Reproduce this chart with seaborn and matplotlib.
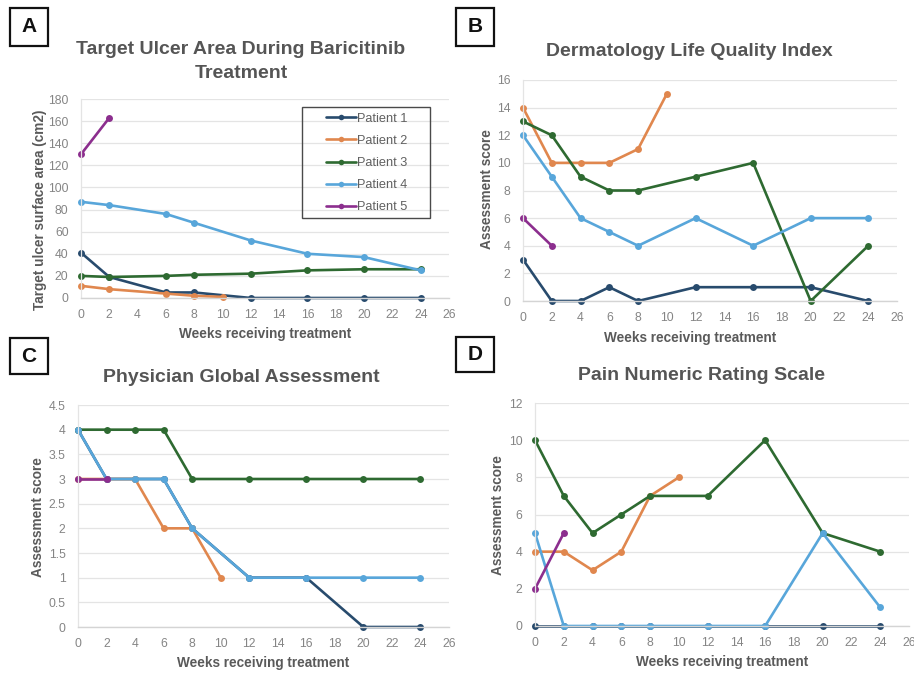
import matplotlib
matplotlib.use("Agg")
import matplotlib.pyplot as plt
from matplotlib.patches import Rectangle
import seaborn as sns
import pandas as pd

# ---- data -------------------------------------------------------------
patients = ["Patient 1", "Patient 2", "Patient 3", "Patient 4", "Patient 5"]
colors = ["#284B6D", "#E0874E", "#2E6A31", "#58A6DA", "#8C2E8E"]

week_ticks = list(range(0, 27, 2))

# Target ulcer surface area (cm2)
area_weeks = [[0, 2, 6, 8, 12, 16, 20, 24],
              [0, 2, 6, 8, 10],
              [0, 2, 6, 8, 12, 16, 20, 24],
              [0, 2, 6, 8, 12, 16, 20, 24],
              [0, 2]]
area_values = [[41, 19, 5, 5, 0, 0, 0, 0],
               [11, 8, 4, 2, 1],
               [20, 19, 20, 21, 22, 25, 26, 26],
               [87, 84, 76, 68, 52, 40, 37, 25],
               [130, 163]]

# Dermatology Life Quality Index
dlqi_weeks = [[0, 2, 4, 6, 8, 12, 16, 20, 24],
              [0, 2, 4, 6, 8, 10],
              [0, 2, 4, 6, 8, 12, 16, 20, 24],
              [0, 2, 4, 6, 8, 12, 16, 20, 24],
              [0, 2]]
dlqi_values = [[3, 0, 0, 1, 0, 1, 1, 1, 0],
               [14, 10, 10, 10, 11, 15],
               [13, 12, 9, 8, 8, 9, 10, 0, 4],
               [12, 9, 6, 5, 4, 6, 4, 6, 6],
               [6, 4]]

# Physician Global Assessment
pga_weeks = [[0, 2, 4, 6, 8, 12, 16, 20, 24],
             [0, 2, 4, 6, 8, 10],
             [0, 2, 4, 6, 8, 12, 16, 20, 24],
             [0, 2, 4, 6, 8, 12, 16, 20, 24],
             [0, 2]]
pga_values = [[4, 3, 3, 3, 2, 1, 1, 0, 0],
              [3, 3, 3, 2, 2, 1],
              [4, 4, 4, 4, 3, 3, 3, 3, 3],
              [4, 3, 3, 3, 2, 1, 1, 1, 1],
              [3, 3]]

# Pain Numeric Rating Scale
pain_weeks = [[0, 2, 4, 6, 8, 12, 16, 20, 24],
              [0, 2, 4, 6, 8, 10],
              [0, 2, 4, 6, 8, 12, 16, 20, 24],
              [0, 2, 4, 6, 8, 12, 16, 20, 24],
              [0, 2]]
pain_values = [[0, 0, 0, 0, 0, 0, 0, 0, 0],
               [4, 4, 3, 4, 7, 8],
               [10, 7, 5, 6, 7, 7, 10, 5, 4],
               [5, 0, 0, 0, 0, 0, 0, 5, 1],
               [2, 5]]

area_ticks = list(range(0, 181, 20))
dlqi_ticks = list(range(0, 17, 2))
pga_ticks = [0, 0.5, 1, 1.5, 2, 2.5, 3, 3.5, 4, 4.5]
pga_tick_labels = ["0", "0.5", "1", "1.5", "2", "2.5", "3", "3.5", "4", "4.5"]
pain_ticks = list(range(0, 13, 2))


def long_frame(weeks, values):
    rows = []
    for name, ws, vs in zip(patients, weeks, values):
        for w, v in zip(ws, vs):
            rows.append({"week": w, "value": v, "patient": name})
    return pd.DataFrame(rows)


# ---- figure -----------------------------------------------------------
sns.set_theme(style="white")
plt.rcParams["font.family"] = ["Liberation Sans", "DejaVu Sans"]

W, H = 914, 673
fig = plt.figure(figsize=(W / 100, H / 100), dpi=100)

TITLE_C = "#555555"
LABEL_C = "#5A5A5A"
TICK_C = "#858585"
GRID_C = "#E4E4E4"
TITLE_FS = 14
LABEL_FS = 9.8


def px_axes(x0, y_top, x1, y_bot):
    return fig.add_axes([x0 / W, 1 - y_bot / H, (x1 - x0) / W, (y_bot - y_top) / H])


def style_axes(ax, yticks, ylim, ylabels=None):
    ax.set_xlim(0, 26)
    ax.set_ylim(*ylim)
    ax.set_xticks(week_ticks)
    ax.set_xticklabels([str(t) for t in week_ticks])
    ax.set_yticks(yticks)
    if ylabels is not None:
        ax.set_yticklabels(ylabels)
    else:
        ax.set_yticklabels([str(t) for t in yticks])
    ax.tick_params(axis="both", length=0, labelsize=8.8, colors=TICK_C)
    ax.tick_params(axis="x", pad=8)
    ax.tick_params(axis="y", pad=9)
    ax.grid(axis="y", color=GRID_C, linewidth=0.9)
    ax.grid(axis="x", visible=False)
    for s in ["top", "right"]:
        ax.spines[s].set_visible(False)
    ax.spines["bottom"].set_color("#D4D4D4")
    ax.spines["bottom"].set_linewidth(1.0)
    ax.spines["left"].set_color("#E4E4E4")
    ax.spines["left"].set_linewidth(0.9)
    ax.set_xlabel("")
    ax.set_ylabel("")
    for line in ax.lines:
        line.set_clip_on(False)


def draw(ax, weeks, values, legend=False):
    df = long_frame(weeks, values)
    sns.lineplot(data=df, x="week", y="value", hue="patient",
                 hue_order=patients, palette=colors, marker="o",
                 markersize=5, markeredgewidth=0, linewidth=1.9,
                 estimator=None, sort=False, ax=ax, legend=legend)


def panel_letter(letter, x0, y0, x1, y1):
    fig.patches.append(Rectangle((x0 / W, 1 - y1 / H), (x1 - x0) / W, (y1 - y0) / H,
                                 transform=fig.transFigure, fill=False,
                                 edgecolor="#111111", linewidth=1.6))
    fig.text((x0 + x1) / 2 / W, 1 - (y0 + y1) / 2 / H, letter, ha="center",
             va="center", fontsize=15, fontweight="bold", color="#111111")


def ftext(x, y, s, color=TITLE_C, **kw):
    fig.text(x / W, 1 - y / H, s, ha="center", va="center", color=color,
             fontweight="bold", **kw)


# A
axA = px_axes(81, 99, 449, 298)
draw(axA, area_weeks, area_values, legend=True)
style_axes(axA, area_ticks, (0, 180))
leg = axA.legend(loc="upper left", bbox_to_anchor=(0.647, 0.967), frameon=False,
                 fontsize=9.2, labelspacing=0.80, handlelength=2.3,
                 handletextpad=0.1, borderpad=0.55, borderaxespad=0,
                 title=None)
for t in leg.get_texts():
    t.set_color("#606060")
for h in leg.legend_handles:
    h.set_markersize(4)
# legend frame
fig.patches.append(Rectangle((302 / W, 1 - 218 / H), 128 / W, 111 / H,
                             transform=fig.transFigure, fill=False,
                             edgecolor="#4A4A4A", linewidth=1.0, zorder=5))
ftext(241, 50, "Target Ulcer Area During Baricitinib", fontsize=TITLE_FS)
ftext(241, 73, "Treatment", fontsize=TITLE_FS)
ftext(265, 334, "Weeks receiving treatment", color=LABEL_C, fontsize=LABEL_FS)
ftext(40, 210, "Target ulcer surface area (cm2)", color=LABEL_C,
      fontsize=LABEL_FS, rotation=90)
panel_letter("A", 10, 8, 48, 46)

# B
axB = px_axes(523, 80, 897, 301)
draw(axB, dlqi_weeks, dlqi_values)
style_axes(axB, dlqi_ticks, (0, 16))
ftext(689, 52, "Dermatology Life Quality Index", fontsize=TITLE_FS)
ftext(690, 338, "Weeks receiving treatment", color=LABEL_C, fontsize=LABEL_FS)
ftext(487, 189, "Assessment score", color=LABEL_C, fontsize=LABEL_FS, rotation=90)
panel_letter("B", 456, 8, 494, 46)

# C
axC = px_axes(78, 405, 449, 627)
draw(axC, pga_weeks, pga_values)
style_axes(axC, pga_ticks, (0, 4.5), pga_tick_labels)
ftext(241, 377, "Physician Global Assessment", fontsize=TITLE_FS)
ftext(263, 663, "Weeks receiving treatment", color=LABEL_C, fontsize=LABEL_FS)
ftext(38, 517, "Assessment score", color=LABEL_C, fontsize=LABEL_FS, rotation=90)
panel_letter("C", 10, 338, 48, 374)

# D
axD = px_axes(535, 403, 909, 626)
draw(axD, pain_weeks, pain_values)
style_axes(axD, pain_ticks, (0, 12))
ftext(702, 375, "Pain Numeric Rating Scale", fontsize=TITLE_FS)
ftext(722, 662, "Weeks receiving treatment", color=LABEL_C, fontsize=LABEL_FS)
ftext(498, 515, "Assessment score", color=LABEL_C, fontsize=LABEL_FS, rotation=90)
panel_letter("D", 456, 337, 494, 372)

fig.savefig("out.png", dpi=100, facecolor="white")
